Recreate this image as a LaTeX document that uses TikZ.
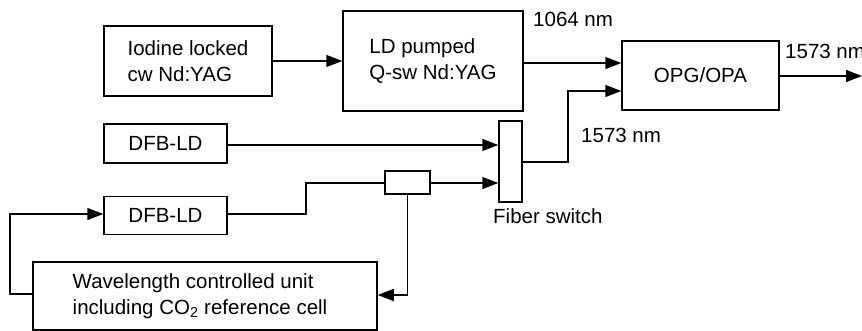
\documentclass[tikz,border=0pt]{standalone}
\usepackage{fontspec}
\setmainfont{Liberation Sans}
\usetikzlibrary{arrows.meta}
\begin{document}
\begin{tikzpicture}[x=1pt,y=-1pt,
  every node/.style={font=\fontsize{20.5}{25.5}\selectfont},
  blk/.style={draw,line width=1.5pt,inner sep=0pt,align=left},
  lbl/.style={anchor=base west,inner sep=0pt},
  conn/.style={line width=1.5pt},
  arr/.style={conn,-{Triangle[length=16pt,width=12pt]}}]
\clip (0,0) rectangle (862,331);
\useasboundingbox (0,0) rectangle (862,331);
% boxes
\node[blk,minimum width=168pt,minimum height=70pt] (iod) at (188,61) {Iodine locked\\cw Nd:YAG\rule{3pt}{0pt}};
\node[blk,minimum width=180pt,minimum height=100pt] (ld) at (433,61) {LD pumped\\Q-sw Nd:YAG};
\node[blk,minimum width=157pt,minimum height=69pt] (opg) at (700.5,75.5) {OPG/OPA};
\node[blk,minimum width=123pt,minimum height=39pt] (dfba) at (165.5,143.5) {DFB-LD};
\node[blk,minimum width=123pt,minimum height=38pt] (dfbb) at (165.5,215.5) {DFB-LD};
\node[blk,minimum width=23pt,minimum height=81pt] (sw) at (510.5,161.5) {};
\node[blk,minimum width=45pt,minimum height=23pt] (cp) at (407.5,182.5) {};
\node[blk,minimum width=344pt,minimum height=68pt] (wcu) at (205,296) {Wavelength controlled unit\\including CO\textsubscript{2} reference cell\rule{10pt}{0pt}};
% labels
\node[lbl] (l1064) at (533,27) {1064 nm};
\node[lbl] (lout) at (785,59) {1573 nm};
\node[lbl] (lmid) at (581,143) {1573 nm};
\node[lbl] (lsw) at (493,223) {Fiber switch};
% coordinates
\coordinate (out) at (862,76);
\coordinate (ja) at (568,162);
\coordinate (jb) at (568,91);
\coordinate (jc) at (306,214);
\coordinate (jd) at (306,183);
\coordinate (je) at (407.5,295);
\coordinate (jf) at (10,294);
\coordinate (jg) at (10,214);
% connectors
\draw[arr] (iod.east) -- (ld.west);
\draw[arr] (ld.east |- 0,63) -- (opg.west |- 0,63);
\draw[arr] (sw.east |- ja) -- (ja) -- (jb) -- (opg.west |- jb);
\draw[arr] (dfba.east |- 0,145) -- (sw.west |- 0,145);
\draw[conn] (dfbb.east |- jc) -- (jc) -- (jd) -- (cp.west |- jd);
\draw[arr] (cp.east |- jd) -- (sw.west |- jd);
\draw[arr] (cp.south) -- (je) -- (wcu.east |- je);
\draw[arr] (wcu.west |- jf) -- (jf) -- (jg) -- (dfbb.west |- jg);
\draw[arr] (opg.east |- out) -- (out);
\end{tikzpicture}
\end{document}
